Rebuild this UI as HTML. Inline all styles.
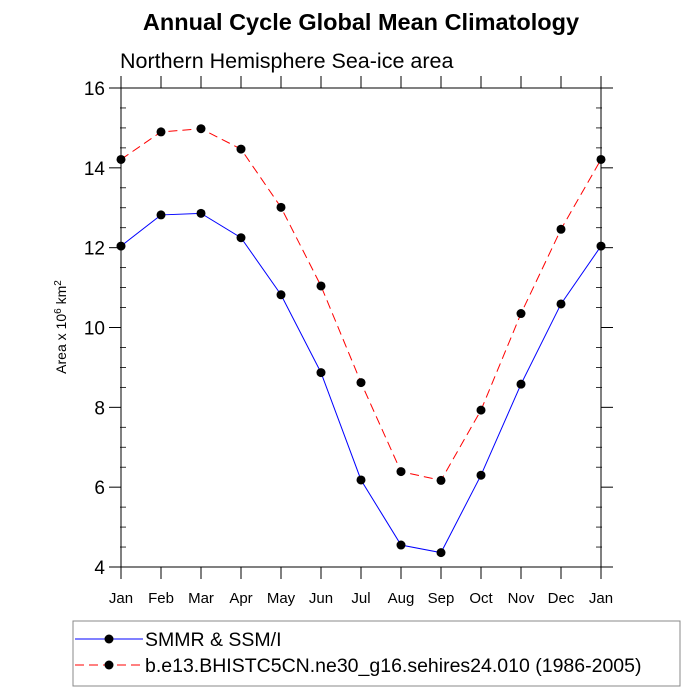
<!DOCTYPE html>
<html><head><meta charset="utf-8"><style>
html,body{margin:0;padding:0;background:#fff;}
svg{display:block;font-family:"Liberation Sans",sans-serif;}
</style></head><body>
<svg id="chart" width="700" height="700" viewBox="0 0 700 700">
<text x="361" y="30" font-size="23.5" font-weight="bold" text-anchor="middle">Annual Cycle Global Mean Climatology</text>
<text x="120" y="68" font-size="21.5">Northern Hemisphere Sea-ice area</text>
<text transform="translate(66,327) rotate(-90)" font-size="14" text-anchor="middle">Area x 10<tspan dy="-5" font-size="10">6</tspan><tspan dy="5"> km</tspan><tspan dy="-5" font-size="10">2</tspan></text>
<rect x="121" y="88" width="480" height="479" fill="none" stroke="#000" stroke-width="1"/>
<g id="axes"></g>
<g id="series"></g>
<rect x="73" y="621" width="607" height="65" fill="none" stroke="#888"/>
<g>
<line x1="75" y1="639" x2="143" y2="639" stroke="#0000ff" stroke-width="1"/>
<circle cx="109" cy="639" r="4.5" fill="#000"/>
<text x="145" y="646" font-size="19.5">SMMR &amp; SSM/I</text>
</g>
<g>
<line x1="75" y1="665" x2="143" y2="665" stroke="#ff0000" stroke-width="1" stroke-dasharray="9,5"/>
<circle cx="109" cy="665" r="4.5" fill="#000"/>
<text x="145" y="672" font-size="19.5">b.e13.BHISTC5CN.ne30_g16.sehires24.010 (1986-2005)</text>
</g>
</svg>
<script>
const months = ["Jan","Feb","Mar","Apr","May","Jun","Jul","Aug","Sep","Oct","Nov","Dec","Jan"];
const obsValues = [12.04,12.82,12.86,12.25,10.82,8.87,6.18,4.55,4.36,6.30,8.58,10.59,12.04];
const modelValues = [14.21,14.90,14.98,14.47,13.01,11.04,8.62,6.39,6.17,7.93,10.35,12.46,14.21];
const yTicks = [4,6,8,10,12,14,16];
const NS="http://www.w3.org/2000/svg";
const X0=121,X1=601,Y0=567,Y1=88,YMIN=4,YMAX=16;
function xs(i){return X0+i*(X1-X0)/(months.length-1);}
function ys(v){return Y0-(v-YMIN)*(Y0-Y1)/(YMAX-YMIN);}
function mk(tag,attrs,parent){const e=document.createElementNS(NS,tag);for(const k in attrs)e.setAttribute(k,attrs[k]);parent.appendChild(e);return e;}
const ax=document.getElementById('axes');
yTicks.forEach(v=>{
  const y=ys(v);
  const t=mk('line',{x1:X0-12,y1:y,x2:X0,y2:y,stroke:'#000'},ax);
  
  
  const r=mk('line',{x1:X1,y1:y,x2:X1+12,y2:y,stroke:'#000'},ax);
  
  
  const l=mk('text',{x:X0-16,y:y+7,'font-size':19,'text-anchor':'end'},ax);
  l.textContent=v;
  
  
});
for(let v=YMIN+0.5;v<YMAX;v+=0.5){
  if(v%2===0)continue;
  const y=ys(v);
  const m=mk('line',{x1:X0-1,y1:y,x2:X0+5,y2:y,stroke:'#000','stroke-width':0.8},ax);
  
  
  const m2=mk('line',{x1:X1-5,y1:y,x2:X1+1,y2:y,stroke:'#000','stroke-width':0.8},ax);
  
  
}
months.forEach((m,i)=>{
  const x=xs(i);
  const t=mk('line',{x1:x,y1:Y0,x2:x,y2:Y0+12,stroke:'#000'},ax);
  
  
  const t2=mk('line',{x1:x,y1:Y1-12,x2:x,y2:Y1,stroke:'#000'},ax);
  
  
  const l=mk('text',{x:x,y:Y0+36,'font-size':15,'text-anchor':'middle'},ax);
  l.textContent=m;
  
  
});
const sg=document.getElementById('series');
function drawSeries(vals,color,dash,name){
  const pts=vals.map((v,i)=>xs(i)+','+ys(v)).join(' ');
  const pl=mk('polyline',{points:pts,fill:'none',stroke:color,'stroke-width':1},sg);
  if(dash)pl.setAttribute('stroke-dasharray',dash);
  
  
  vals.forEach((v,i)=>{
    const c=mk('circle',{cx:xs(i),cy:ys(v),r:4.5,fill:'#000'},sg);
    
    
  });
}
drawSeries(modelValues,'#ff0000','9,5','model-series');
drawSeries(obsValues,'#0000ff',null,'obs-series');
</script>
</body></html>
